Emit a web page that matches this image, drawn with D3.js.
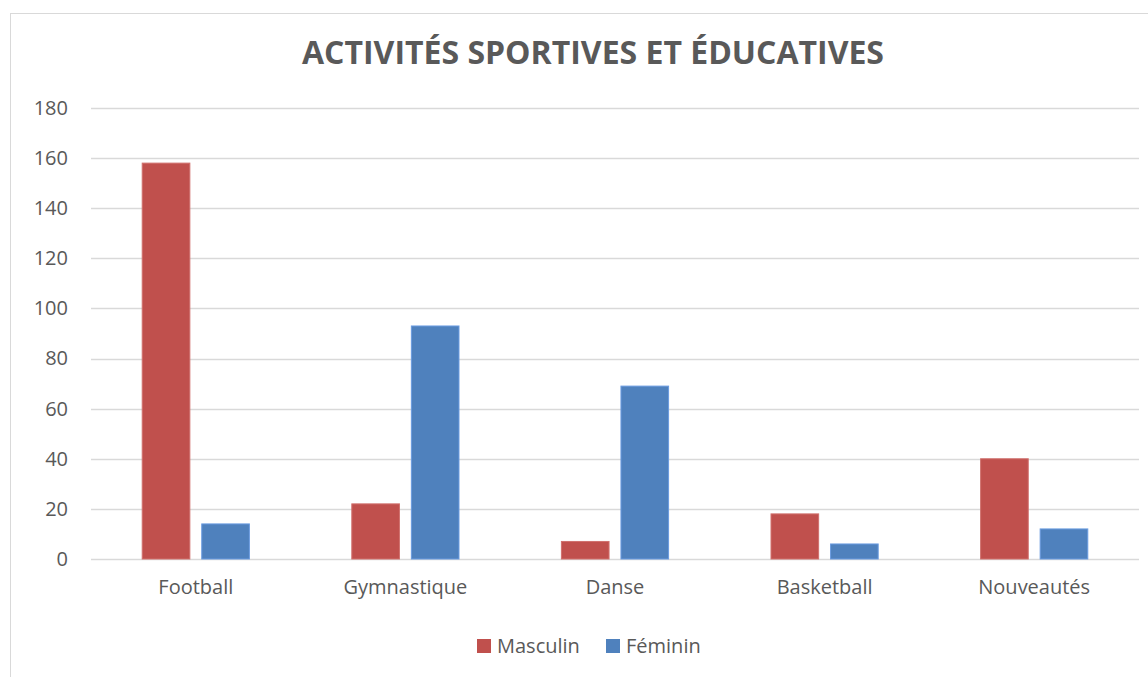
<html>
    <head>
        <title>Activités sportives et éducatives</title>
        <script src="https://cdn.jsdelivr.net/npm/d3@7"></script>
        <style>
            body { margin: 0; background: #fff; }
            text { font-family: "Open Sans", "Liberation Sans", sans-serif; fill: #595959; }
        </style>
    </head>
    <body>
        <svg id="chart"></svg>
    </body>
    <script>
        // Data
        const categories = ["Football", "Gymnastique", "Danse", "Basketball", "Nouveautés"]
        const series = ["Masculin", "Féminin"]
        const masculin = [158, 22, 7, 18, 40]
        const feminin = [14, 93, 69, 6, 12]
        const yTicks = [0, 20, 40, 60, 80, 100, 120, 140, 160, 180]
        const TITLE = "ACTIVITÉS SPORTIVES ET ÉDUCATIVES"

        const COLORS = {Masculin: "#C0504D", "Féminin": "#4F81BD"}
        const STROKES = {Masculin: "#d0706d", "Féminin": "#6a9be0"}

        const WIDTH = 1148
        const HEIGHT = 677
        const MARGIN = {top: 108, left: 91, bottom: 118, right: 9}
        const CHART_WIDTH = WIDTH - MARGIN.left - MARGIN.right
        const CHART_HEIGHT = HEIGHT - MARGIN.top - MARGIN.bottom

        const svg = d3.select("#chart")
            .attr("width", WIDTH)
            .attr("height", HEIGHT)

        // outer frame
        svg.append("rect")
            .attr("x", 10.5).attr("y", 13.5)
            .attr("width", WIDTH).attr("height", HEIGHT)
            .attr("fill", "none")
            .attr("stroke", "#d9d9d9")

        svg.append("text")
            .attr("x", 593)
            .attr("y", 64)
            .attr("text-anchor", "middle")
            .style("font-size", "32px")
            .style("font-weight", "bold")
            .text(TITLE)

        const x = d3.scaleBand()
            .domain(categories)
            .range([0, CHART_WIDTH])

        const xInner = d3.scaleBand()
            .domain(series)
            .range([0, x.bandwidth()])
            .paddingInner(0.2)
            .paddingOuter(0.86)

        const y = d3.scaleLinear()
            .domain([0, 180])
            .range([CHART_HEIGHT, 0])

        const g = svg.append("g")
            .attr("transform", `translate(${MARGIN.left},${MARGIN.top})`)

        // gridlines
        g.append("g")
            .selectAll("line")
            .data(yTicks)
            .join("line")
                .attr("x1", 0)
                .attr("x2", CHART_WIDTH)
                .attr("y1", d => Math.round(y(d)) + 0.5)
                .attr("y2", d => Math.round(y(d)) + 0.5)
                .attr("stroke", "#d9d9d9")
                .attr("stroke-width", 1.5)

        // y labels
        const yAxis = d3.axisLeft(y).tickValues(yTicks).tickSize(0).tickPadding(23)
        g.append("g")
            .call(yAxis)
            .call(s => s.select(".domain").remove())
            .selectAll("text")
                .style("font-size", "20px")
                .attr("fill", "#595959")

        // bars
        const rows = categories.map((c, i) => ({category: c, values: [
            {key: "Masculin", value: masculin[i]},
            {key: "Féminin", value: feminin[i]}
        ]}))

        g.append("g")
            .selectAll("g")
            .data(rows)
            .join("g")
                .attr("transform", d => `translate(${x(d.category)},0)`)
            .selectAll("rect")
            .data(d => d.values)
            .join("rect")
                .attr("x", d => xInner(d.key))
                .attr("y", d => y(d.value))
                .attr("width", xInner.bandwidth())
                .attr("height", d => CHART_HEIGHT - y(d.value))
                .attr("fill", d => COLORS[d.key])
                .attr("stroke", d => STROKES[d.key])
                .attr("stroke-width", 1)

        // x labels
        const xAxis = d3.axisBottom(x).tickSize(0).tickPadding(21)
        g.append("g")
            .attr("transform", `translate(0,${CHART_HEIGHT})`)
            .call(xAxis)
            .call(s => s.select(".domain").remove())
            .selectAll("text")
                .style("font-size", "20px")
                .attr("fill", "#595959")

        // legend
        const legendX = [477, 606]
        const legend = svg.append("g")
            .selectAll("g")
            .data(series)
            .join("g")
                .attr("transform", (d, i) => `translate(${legendX[i]},639)`)
        legend.append("rect")
            .attr("width", 14).attr("height", 14)
            .attr("fill", d => COLORS[d])
        legend.append("text")
            .attr("x", 20).attr("y", 14)
            .style("font-size", "20px")
            .text(d => d)
    </script>
</html>
